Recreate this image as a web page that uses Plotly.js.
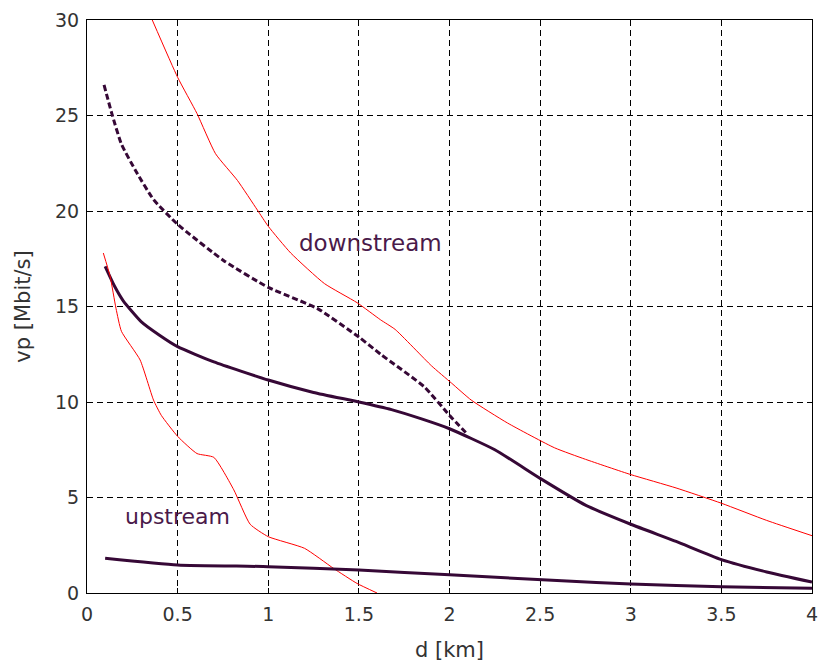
<!DOCTYPE html>
<html>
<head>
<meta charset="utf-8">
<script src="https://cdn.plot.ly/plotly-3.0.1.min.js"></script>
<style>html,body{margin:0;padding:0;background:#fff;}#chart{width:818px;height:666px;}</style>
</head>
<body>
<div id="chart"></div>
<script>
// downstream, solid thick
const downSolidX = [0.1, 0.15, 0.2, 0.3, 0.4, 0.5, 0.7, 1.0, 1.25, 1.5, 1.68, 1.85, 2.0, 2.25, 2.5, 2.75, 3.0, 3.25, 3.5, 3.75, 4.0];
const downSolidY = [17.1, 16.1, 15.3, 14.2, 13.5, 12.9, 12.1, 11.15, 10.5, 10.0, 9.6, 9.1, 8.6, 7.5, 6.0, 4.6, 3.6, 2.7, 1.75, 1.1, 0.57];
// downstream, dashed thick
const downDashX = [0.094, 0.137, 0.19, 0.275, 0.367, 0.5, 0.755, 1.0, 1.27, 1.5, 1.62, 1.86, 2.0, 2.1];
const downDashY = [26.6, 25.1, 23.5, 22.0, 20.6, 19.3, 17.4, 16.0, 14.9, 13.4, 12.5, 10.8, 9.3, 8.3];
// downstream, red thin
const downRedX = [0.36, 0.5, 0.607, 0.709, 0.83, 0.94, 1.0, 1.124, 1.31, 1.49, 1.62, 1.70, 1.90, 2.01, 2.12, 2.32, 2.58, 2.75, 3.0, 3.25, 3.5, 3.75, 4.0];
const downRedY = [30.0, 27.0, 25.1, 23.0, 21.6, 20.05, 19.2, 17.8, 16.2, 15.2, 14.3, 13.8, 11.9, 11.0, 10.1, 8.9, 7.6, 7.0, 6.2, 5.5, 4.7, 3.8, 3.0];
// upstream, red thin
const upRedX = [0.09, 0.127, 0.16, 0.19, 0.293, 0.367, 0.41, 0.5, 0.607, 0.70, 0.81, 0.90, 1.0, 1.2, 1.36, 1.49, 1.6];
const upRedY = [17.8, 16.6, 14.9, 13.7, 12.2, 10.1, 9.3, 8.2, 7.3, 7.1, 5.4, 3.6, 2.95, 2.34, 1.29, 0.5, 0.0];
// upstream, solid thick
const upSolidX = [0.1, 0.5, 1.0, 1.5, 2.0, 2.62, 3.0, 3.5, 4.0];
const upSolidY = [1.82, 1.47, 1.38, 1.2, 0.95, 0.64, 0.47, 0.33, 0.25];

const xTicks = [0, 0.5, 1, 1.5, 2, 2.5, 3, 3.5, 4];
const xTickText = ["0", "0.5", "1", "1.5", "2", "2.5", "3", "3.5", "4"];
const yTicks = [0, 5, 10, 15, 20, 25, 30];
const yTickText = ["0", "5", "10", "15", "20", "25", "30"];

const purple = "#360836";
const sm = {shape: "spline", smoothing: 0.5};
const traces = [
  {x: downSolidX, y: downSolidY, mode: "lines", line: Object.assign({color: purple, width: 3}, sm)},
  {x: downDashX, y: downDashY, mode: "lines", line: Object.assign({color: purple, width: 3, dash: "6px,3px"}, sm)},
  {x: downRedX, y: downRedY, mode: "lines", line: Object.assign({color: "#ff0000", width: 1}, sm)},
  {x: upRedX, y: upRedY, mode: "lines", line: Object.assign({color: "#ff0000", width: 1}, sm)},
  {x: upSolidX, y: upSolidY, mode: "lines", line: Object.assign({color: purple, width: 3}, sm)}
];

const FONT = "DejaVu Sans, sans-serif";
const axisCommon = {
  showline: true, linecolor: "#000", linewidth: 1, mirror: "ticks",
  ticks: "inside", ticklen: 5, tickcolor: "#000",
  showgrid: true, gridcolor: "#000", gridwidth: 1, griddash: "6px,4px",
  zeroline: false, ticklabeloverflow: "allow",
  tickfont: {family: FONT, size: 19, color: "#333"}
};

const layout = {
  width: 818, height: 666,
  margin: {l: 87, r: 6, t: 20, b: 73},
  paper_bgcolor: "#fff", plot_bgcolor: "#fff",
  showlegend: false,
  font: {family: FONT, size: 19, color: "#333"},
  xaxis: Object.assign({}, axisCommon, {
    range: [0, 4], tickvals: xTicks, ticktext: xTickText, ticklabelstandoff: 4,
    title: {text: "d [km]", font: {family: FONT, size: 21, color: "#333"}, standoff: 18}
  }),
  yaxis: Object.assign({}, axisCommon, {
    range: [0, 30], tickvals: yTicks, ticktext: yTickText, ticklabelstandoff: 3,
    title: {text: "vp [Mbit/s]", font: {family: FONT, size: 21, color: "#333"}, standoff: 18}
  }),
  annotations: [
    {x: 1.566, y: 18.3, xref: "x", yref: "y", text: "downstream", showarrow: false,
     font: {size: 23, color: "#4a1a4a", family: FONT}},
    {x: 0.5, y: 4.0, xref: "x", yref: "y", text: "upstream", showarrow: false,
     font: {size: 22, color: "#4a1a4a", family: FONT}}
  ]
};

Plotly.newPlot("chart", traces, layout, {displayModeBar: false, staticPlot: true});
</script>
</body>
</html>
